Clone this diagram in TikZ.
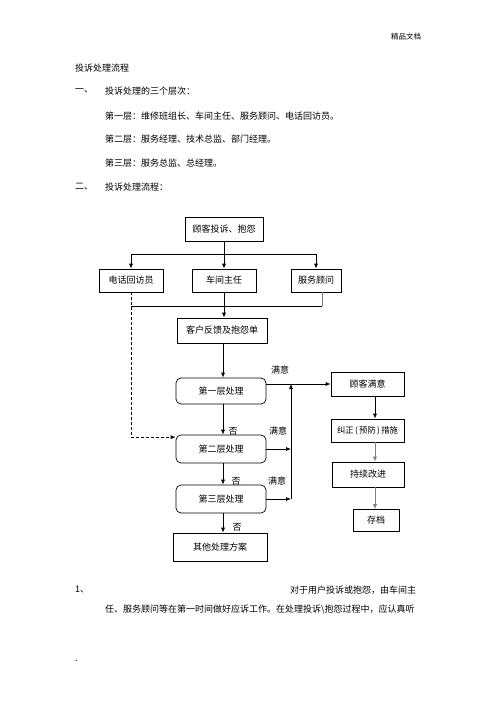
\documentclass[tikz,border=0pt]{standalone}
\usepackage{fontspec}
\setmainfont{Noto Sans CJK SC}
\usetikzlibrary{arrows.meta}
\begin{document}
\begin{tikzpicture}[x=1pt,y=-1pt,
  font=\fontsize{9}{11}\selectfont,
  txt/.style={anchor=west,inner sep=0pt},
  box/.style={draw,line width=0.7pt,inner sep=0pt,align=center},
  rbox/.style={box,rounded corners=5pt},
  arr/.style={line width=0.7pt,-{Latex[length=5pt,width=4pt]}},
  ln/.style={line width=0.7pt},
  gln/.style={line width=0.9pt,draw=gray},
  lbl/.style={inner sep=0pt}]
\fill[white] (0,0) rectangle (496,702);
\path[use as bounding box] (0,0) rectangle (496,702);

% header text
\node[txt,font=\fontsize{7.5}{9}\selectfont] (hdr) at (391,37) {精品文档};
\node[txt] (title) at (75,68) {投诉处理流程};
\node[txt] (n1) at (75,91) {一、};
\node[txt] (t1) at (105,91) {投诉处理的三个层次：};
\node[txt] (l1) at (105,116) {第一层：维修班组长、车间主任、服务顾问、电话回访员。};
\node[txt] (l2) at (105,139) {第二层：服务经理、技术总监、部门经理。};
\node[txt] (l3) at (105,163) {第三层：服务总监、总经理。};
\node[txt] (n2) at (75,187) {二、};
\node[txt] (t2) at (105,187) {投诉处理流程：};

% boxes
\node[box,minimum width=78pt,minimum height=24pt] (top) at (224,229) {顾客投诉、抱怨};
\node[box,minimum width=64pt,minimum height=23pt] (phone) at (131,280.5) {电话回访员};
\node[box,minimum width=64pt,minimum height=23pt] (cjzr) at (224,280.5) {车间主任};
\node[box,minimum width=50pt,minimum height=23pt] (fwgw) at (316,280.5) {服务顾问};
\node[box,minimum width=90pt,minimum height=25pt] (fk) at (222,330.5) {客户反馈及抱怨单};
\node[rbox,minimum width=90pt,minimum height=26pt] (L1) at (221,391) {第一层处理};
\node[rbox,minimum width=90pt,minimum height=28pt] (L2) at (221,449) {第二层处理};
\node[rbox,minimum width=90pt,minimum height=28pt] (L3) at (221,499) {第三层处理};
\node[box,minimum width=94pt,minimum height=28pt] (other) at (220,547) {其他处理方案};
\node[box,minimum width=73pt,minimum height=24pt] (gkmy) at (367.5,384) {顾客满意};
\node[box,minimum width=73pt,minimum height=23pt,font=\fontsize{8.3}{10}\selectfont] (jz) at (367.5,430.5) {纠正\,(\,预防\,)\,措施};
\node[box,minimum width=72pt,minimum height=25pt] (cxgj) at (368,474.5) {持续改进};
\node[box,minimum width=46pt,minimum height=22pt] (cd) at (376,520.5) {存档};

% coordinates
\coordinate (j0) at (224,254);
\coordinate (j1) at (322,306);
\coordinate (mc) at (223,0);
\coordinate (rc) at (375,0);
\coordinate (vb) at (291,499);
\coordinate (vt) at (291,384);

% connectors top part
\draw[arr] (top.south) -- (cjzr.north);
\draw[arr] (j0) -| (phone.north);
\draw[arr] (j0) -| (fwgw.north);
\draw[gln] (fwgw.south -| j1) -- (j1);
\draw[ln] (j1) -- (j1 -| phone.south);
\draw[arr] (cjzr.south) -- (cjzr.south |- fk.north);
\draw[arr,dashed,dash pattern=on 3pt off 2pt] (phone.south) |- ([yshift=-2.5pt]L2.north west);

% main column
\draw[arr] (fk.south -| mc) -- (L1.north -| mc);
\draw[arr] (L1.south -| mc) -- (L2.north -| mc);
\draw[arr] (L2.south -| mc) -- (L3.north -| mc);
\draw[arr] (L3.south -| mc) -- (other.north -| mc);
\node[lbl] (no1) at (233,431) {否};
\node[lbl] (no2) at (236,481) {否};
\node[lbl] (no3) at (237,527) {否};

% satisfied paths
\draw[arr] (gkmy.west -| L1.east) -- (gkmy.west);
\draw[arr] (L2.east) -- (L2.east -| vb);
\draw[arr] (L3.east) -- (vb);
\draw[arr] (vb) -- (vt);
\node[lbl] (ok1) at (280,370) {满意};
\node[lbl] (ok2) at (278,431) {满意};
\node[lbl] (ok3) at (277,481) {满意};

% right column
\draw[arr] (gkmy.south -| rc) -- (jz.north -| rc);
\draw[arr,draw=gray] (jz.south -| rc) -- (cxgj.north -| rc);
\draw[arr,draw=gray] (cxgj.south -| rc) -- (cd.north -| rc);

% bottom text
\node[txt] (p1n) at (75,590) {1、};
\node[txt] (p1a) at (290,590) {对于用户投诉或抱怨，由车间主};
\node[txt] (p1b) at (105,609) {任、服务顾问等在第一时间做好应诉工作。在处理投诉\textbackslash 抱怨过程中，应认真听};
\node[txt] (dot) at (75,661) {.};
\end{tikzpicture}
\end{document}
